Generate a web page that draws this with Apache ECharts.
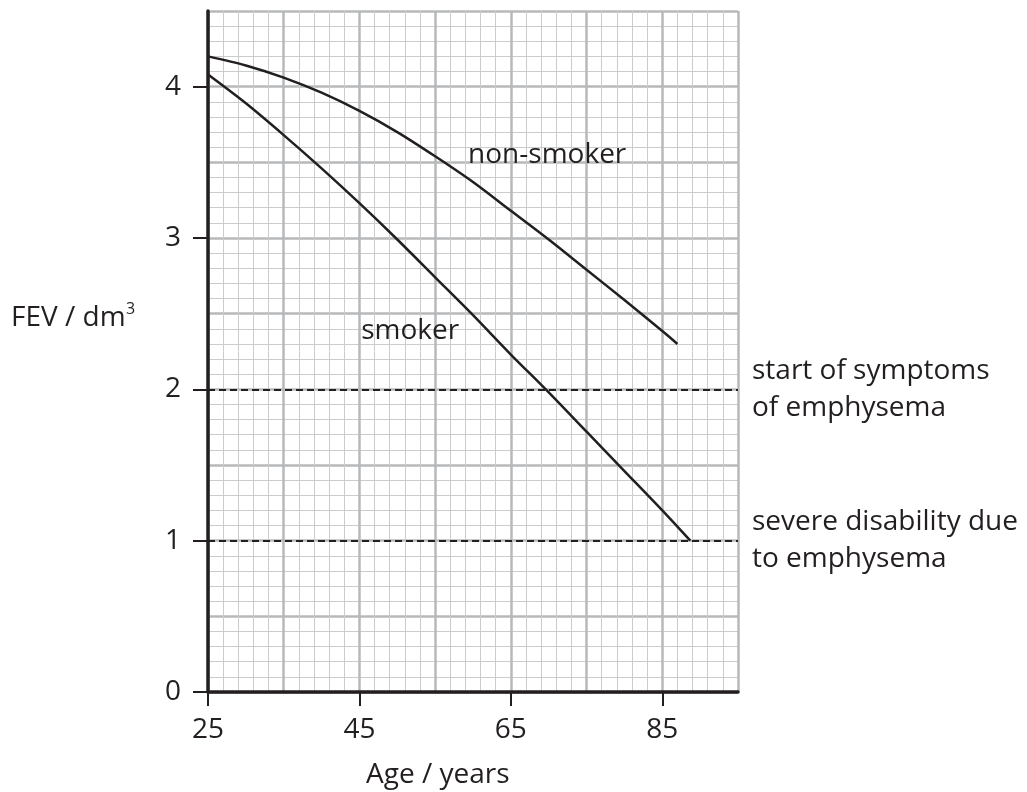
<!DOCTYPE html>
<html>
<head>
<meta charset="utf-8">
<title>FEV against age</title>
<script src="https://cdn.jsdelivr.net/npm/echarts@6/dist/echarts.min.js"></script>
<style>
    html, body { margin: 0; padding: 0; background: #fff; }
    #main { width: 1027px; height: 792px; }
</style>
</head>
<body>
<div id="main"></div>
<script>
// data
var nonSmokerAge = [25, 30, 35, 40, 45, 50, 55, 60, 65, 70, 75, 80, 85, 87];
var nonSmokerFev = [4.20, 4.14, 4.06, 3.96, 3.84, 3.70, 3.54, 3.37, 3.18, 2.99, 2.79, 2.59, 2.385, 2.30];
var smokerAge = [25, 30, 35, 40, 45, 50, 55, 60, 65, 70, 75, 80, 85, 88.7];
var smokerFev = [4.08, 3.89, 3.68, 3.46, 3.23, 2.99, 2.74, 2.49, 2.23, 1.98, 1.72, 1.46, 1.20, 1.00];

var ageTicks = [25, 45, 65, 85];
var fevTicks = [0, 1, 2, 3, 4];

// dashed reference levels and their notes
var levelValues = [2, 1];
var levelNotes = ["start of symptoms\nof emphysema", "severe disability due\nto emphysema"];

var ink = "#231f20";
var font = "Open Sans";
var size = 28;

// pair up x and y arrays for echarts
function pairs(xs, ys) {
    return xs.map(function (x, i) {
        return [x, ys[i]];
    });
}

var myChart = echarts.init(document.getElementById("main"));

// axis 0 draws the graph paper, axis 1 draws line, ticks and labels
var paperLine = { show: true, lineStyle: { color: "#b6b8ba", width: 2.5 } };
var paperMinor = { show: true, lineStyle: { color: "#cbcccd", width: 1 } };

var option = {
    backgroundColor: "#fff",
    animation: false,
    textStyle: { fontFamily: font, color: ink },
    grid: { left: 208, right: 289, top: 11, bottom: 100 },
    xAxis: [
        {
            type: "value", min: 25, max: 95, interval: 10,
            axisLine: { show: false }, axisTick: { show: false }, axisLabel: { show: false },
            minorTick: { show: false, splitNumber: 5 },
            splitLine: paperLine,
            minorSplitLine: paperMinor
        },
        {
            type: "value", min: 25, max: 95, position: "bottom", z: 5,
            axisLine: { show: true, lineStyle: { color: ink, width: 3.5 } },
            axisTick: { show: true, customValues: ageTicks, length: 14, lineStyle: { color: ink, width: 2 } },
            axisLabel: { customValues: ageTicks, color: ink, fontSize: size, fontFamily: font, margin: 24 },
            splitLine: { show: false }
        }
    ],
    yAxis: [
        {
            type: "value", min: 0, max: 4.5, interval: 0.5,
            axisLine: { show: false }, axisTick: { show: false }, axisLabel: { show: false },
            minorTick: { show: false, splitNumber: 5 },
            splitLine: paperLine,
            minorSplitLine: paperMinor
        },
        {
            type: "value", min: 0, max: 4.5, position: "left", z: 5,
            axisLine: { show: true, lineStyle: { color: ink, width: 3.5 } },
            axisTick: { show: true, customValues: fevTicks, length: 15, lineStyle: { color: ink, width: 2 } },
            axisLabel: { customValues: fevTicks, color: ink, fontSize: size, fontFamily: font, margin: 27 },
            splitLine: { show: false }
        }
    ],
    graphic: [
        {
            type: "text", left: 11, top: 304,
            style: { text: "FEV / dm", font: size + "px '" + font + "'", fill: ink }
        },
        {
            // superscript of dm3
            type: "text", left: 126, top: 301,
            style: { text: "3", font: "16px '" + font + "'", fill: ink }
        },
        {
            type: "text", left: 366, top: 761,
            style: { text: "Age / years", font: size + "px '" + font + "'", fill: ink }
        }
    ],
    series: [
        {
            name: "non-smoker",
            type: "line",
            xAxisIndex: 0, yAxisIndex: 0,
            data: pairs(nonSmokerAge, nonSmokerFev),
            smooth: 0.3,
            showSymbol: false,
            lineStyle: { color: ink, width: 2.5 },
            z: 4,
            markPoint: {
                silent: true,
                symbolSize: 0,
                data: [{ coord: [69.8, 3.545] }],
                label: { show: true, position: "inside", formatter: "non-smoker", color: ink, fontSize: size, fontFamily: font }
            }
        },
        {
            name: "smoker",
            type: "line",
            xAxisIndex: 0, yAxisIndex: 0,
            data: pairs(smokerAge, smokerFev),
            smooth: 0.3,
            showSymbol: false,
            lineStyle: { color: ink, width: 2.5 },
            z: 4,
            markPoint: {
                silent: true,
                symbolSize: 0,
                data: [{ coord: [51.7, 2.385] }],
                label: { show: true, position: "inside", formatter: "smoker", color: ink, fontSize: size, fontFamily: font }
            },
            // dashed levels with the notes to the right of the paper
            markLine: {
                silent: true,
                symbol: "none",
                lineStyle: { color: ink, width: 2, type: [7, 4] },
                label: {
                    show: true, position: "end", distance: 14, color: ink, fontSize: size, fontFamily: font,
                    lineHeight: 37, align: "left"
                },
                data: levelValues.map(function (v, i) {
                    return { yAxis: v, label: { formatter: levelNotes[i] } };
                })
            }
        }
    ]
};

myChart.setOption(option);
</script>
</body>
</html>
